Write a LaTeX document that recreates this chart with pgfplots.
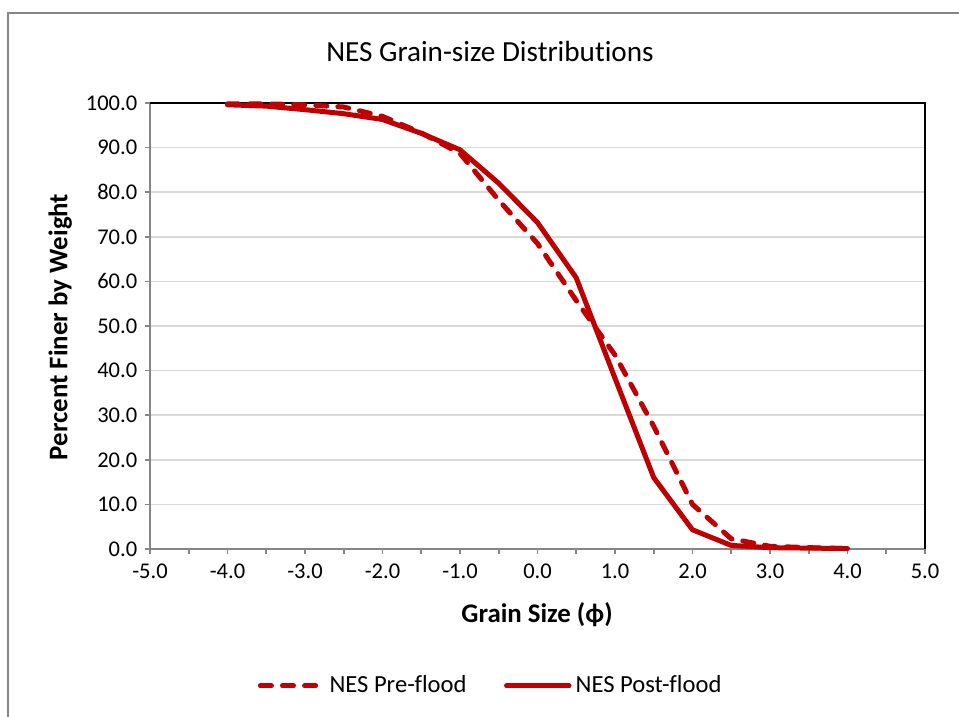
\documentclass[border=0pt]{standalone}
\usepackage{fontspec}
\setmainfont{Carlito}[Ligatures=NoCommon]
\usepackage{pgfplots}
\pgfplotsset{compat=1.18}
\definecolor{nesred}{HTML}{C00000}
\definecolor{gridgray}{HTML}{D9D9D9}
\definecolor{axisgray}{HTML}{868686}

\begin{document}
\begin{tikzpicture}
\useasboundingbox (-72pt,-80.64pt) rectangle (388.32pt,263.52pt);
\draw[axisgray, line width=0.7pt] (-68.16pt,-90pt) -- (-68.16pt,257.28pt) -- (400pt,257.28pt);
\begin{axis}[
  at={(0,0)}, anchor=south west,
  scale only axis, width=372pt, height=214.08pt,
  xmin=-5, xmax=5, ymin=0, ymax=100,
  axis x line=bottom, axis y line=left,
  axis line style={-, axisgray, line width=0.9pt},
  xtick={-5,-4,...,5}, minor xtick={-4.5,-3.5,...,4.5},
  ytick={0,10,...,100},
  tick align=outside, major tick length=2.6pt, minor tick length=2.6pt,
  tick style={axisgray, line width=0.8pt},
  ymajorgrids, grid style={gridgray, line width=0.7pt},
  ticklabel style={font=\fontsize{10.8}{13}\selectfont},
  /pgf/number format/assume math mode=true,
  xticklabel={\pgfmathprintnumber[fixed,fixed zerofill,precision=1]{\tick}},
  yticklabel={\pgfmathprintnumber[fixed,fixed zerofill,precision=1]{\tick}},
  xticklabel style={yshift=-1pt},
  title={NES Grain-size Distributions},
  title style={font=\fontsize{14}{17}\selectfont, at={(0.4387,1.087)}, anchor=center},
  xlabel={Grain Size (ϕ)},
  ylabel={Percent Finer by Weight},
  label style={font=\bfseries\fontsize{12.9}{15}\selectfont},
  xlabel style={at={(0.4994,-0.148)}, anchor=center},
  ylabel style={at={(-0.116,0.498)}, anchor=center},
  legend columns=2,
  legend style={draw=none, fill=none, at={(0.441,-0.307)}, anchor=center,
    font=\fontsize{11.8}{14}\selectfont,
    /tikz/every even column/.append style={column sep=16pt}},
  legend image code/.code={\draw[#1] (0pt,0pt) -- (30pt,0pt);},
  clip=false,
]
\draw[black, line width=1pt] (axis cs:-5,100) -- (axis cs:5,100) -- (axis cs:5,0);
\addplot[nesred, line width=2.4pt, line cap=round, line join=round,
  dash pattern=on 5.3pt off 5.3pt]
  coordinates {(-4,99.8)(-3.5,99.8)(-3,99.6)(-2.5,99.1)(-2,97.0)(-1.5,93.3)
    (-1,88.7)(-0.5,78.2)(0,68.5)(0.5,55.7)(1,43.5)(1.5,27.5)(2,10.0)
    (2.5,2.3)(3,0.6)(3.5,0.3)(4,0.1)};
\addlegendentry{NES Pre-flood}
\addplot[nesred, line width=2.4pt, line cap=round, line join=round]
  coordinates {(-4,99.6)(-3.5,99.3)(-3,98.5)(-2.5,97.6)(-2,96.3)(-1.5,93.2)
    (-1,89.5)(-0.5,82.0)(0,73.2)(0.5,60.8)(1,38.3)(1.5,16.0)(2,4.3)
    (2.5,0.8)(3,0.3)(3.5,0.2)(4,0.1)};
\addlegendentry{NES Post-flood}
\end{axis}
\end{tikzpicture}
\end{document}
